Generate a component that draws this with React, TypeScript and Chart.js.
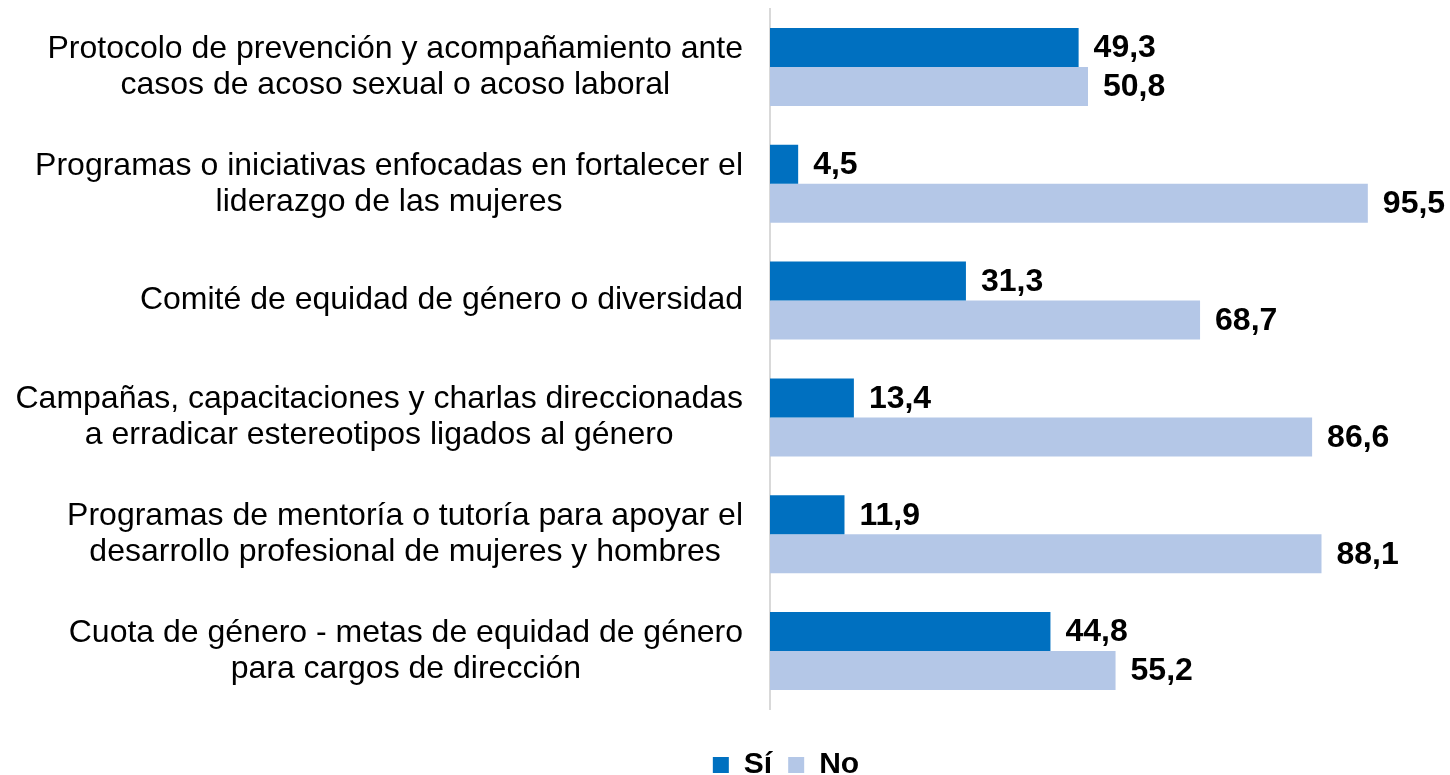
import React, { useEffect, useRef } from "react";
import { Chart, registerables } from "chart.js";

Chart.register(...registerables);

const categories: string[][] = [
  ["Protocolo de prevención y acompañamiento ante", "casos de acoso sexual o acoso laboral"],
  ["Programas o iniciativas enfocadas en fortalecer el", "liderazgo de las mujeres"],
  ["Comité de equidad de género o diversidad"],
  ["Campañas, capacitaciones y charlas direccionadas", "a erradicar estereotipos ligados al género"],
  ["Programas de mentoría o tutoría para apoyar el", "desarrollo profesional de mujeres y hombres"],
  ["Cuota de género - metas de equidad de género", "para cargos de dirección"],
];

const siValues: number[] = [49.3, 4.5, 31.3, 13.4, 11.9, 44.8];
const noValues: number[] = [50.8, 95.5, 68.7, 86.6, 88.1, 55.2];

const seriesNames: string[] = ["Sí", "No"];

const FONT = '"Liberation Sans", Arial, sans-serif';

const formatValue = (v: number) => v.toFixed(1).replace(".", ",");

const valueLabelsPlugin = {
  id: "valueLabels",
  afterDatasetsDraw(chart: any) {
    const ctx = chart.ctx;
    ctx.save();
    ctx.font = `bold 32px ${FONT}`;
    ctx.fillStyle = "#000000";
    ctx.textAlign = "left";
    ctx.textBaseline = "middle";
    chart.data.datasets.forEach((ds: any, di: number) => {
      const meta = chart.getDatasetMeta(di);
      meta.data.forEach((el: any, i: number) => {
        const v = ds.data[i];
        ctx.fillText(formatValue(v), el.x + 15, el.y + 1);
      });
    });
    ctx.restore();
  },
};

const categoryLabelsPlugin = {
  id: "categoryLabels",
  afterDraw(chart: any) {
    const ctx = chart.ctx;
    const yScale = chart.scales.y;
    const rightEdge = chart.chartArea.left - 27;
    ctx.save();
    ctx.font = `32px ${FONT}`;
    ctx.fillStyle = "#000000";
    ctx.textAlign = "center";
    ctx.textBaseline = "middle";
    const lineH = 36;
    categories.forEach((lines, i) => {
      const y = yScale.getPixelForTick(i);
      const maxW = Math.max(...lines.map((l) => ctx.measureText(l).width));
      const cx = rightEdge - maxW / 2;
      lines.forEach((line, j) => {
        const ty = y + (j - (lines.length - 1) / 2) * lineH;
        ctx.fillText(line, cx, ty);
      });
    });
    ctx.restore();
  },
};

const LEFT_PAD = 176;
const AXIS_X = 770;

export default function App() {
  const canvasRef = useRef<HTMLCanvasElement | null>(null);

  useEffect(() => {
    if (!canvasRef.current) return;
    const chart = new Chart(canvasRef.current, {
      type: "bar",
      data: {
        labels: categories,
        datasets: [
          {
            label: seriesNames[0],
            data: siValues,
            backgroundColor: "#0070C0",
            borderWidth: 0,
            barPercentage: 1,
            categoryPercentage: 0.668,
          },
          {
            label: seriesNames[1],
            data: noValues,
            backgroundColor: "#B4C7E7",
            borderWidth: 0,
            barPercentage: 1,
            categoryPercentage: 0.668,
          },
        ],
      },
      options: {
        indexAxis: "y",
        animation: false,
        responsive: false,
        maintainAspectRatio: false,
        layout: {
          padding: { left: LEFT_PAD, right: 54, top: 8.6, bottom: -15 },
        },
        scales: {
          x: {
            type: "linear",
            min: 0,
            max: 100,
            display: false,
          },
          y: {
            type: "category",
            grid: { display: false },
            border: { display: true, color: "#D9D9D9", width: 2 },
            ticks: { display: false },
            afterFit: (scale: any) => {
              scale.width = AXIS_X - LEFT_PAD;
            },
          },
        },
        plugins: {
          tooltip: { enabled: false },
          legend: {
            display: true,
            position: "bottom",
            title: {
              display: true,
              text: "",
              font: { size: 12, lineHeight: 1.2 },
              padding: { top: 0, bottom: 10.2 },
            },
            labels: {
              font: { family: FONT, size: 30, weight: "bold" },
              color: "#000000",
              boxWidth: 16,
              boxHeight: 16,
              padding: 16,
            },
          },
        },
      },
      plugins: [valueLabelsPlugin, categoryLabelsPlugin],
    });
    return () => chart.destroy();
  }, []);

  return (
    <div style={{ position: "fixed", left: 0, top: 0, width: 1450, height: 775, background: "#ffffff" }}>
      <canvas ref={canvasRef} width={1450} height={775} />
    </div>
  );
}
